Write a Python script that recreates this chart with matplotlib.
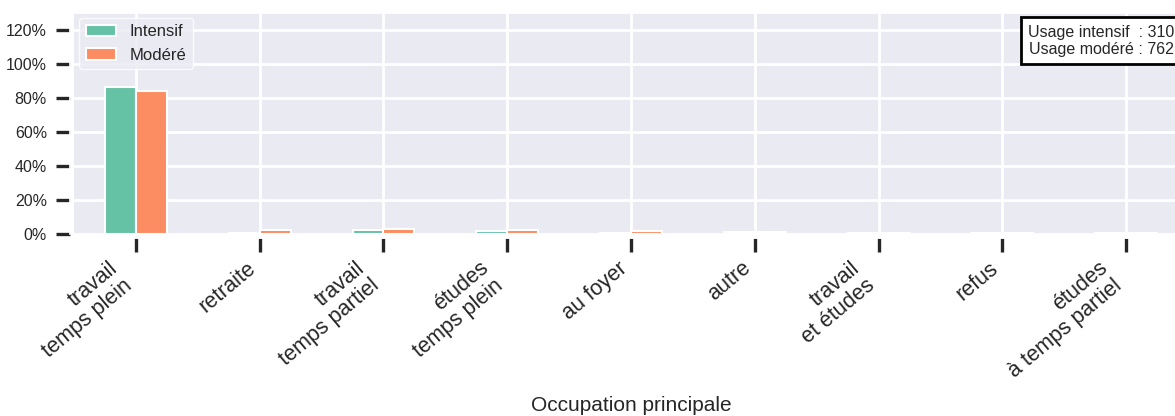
import numpy as np
import matplotlib
matplotlib.use("Agg")
import matplotlib.pyplot as plt
import seaborn as sns
from matplotlib.ticker import PercentFormatter

# ---------- Donnees ----------
categories = ["travail\ntemps plein", "retraite", "travail\ntemps partiel",
              "études\ntemps plein", "au foyer", "autre",
              "travail\net études", "refus", "études\nà temps partiel"]
intensif = [0.862, 0.008, 0.022, 0.017, 0.008, 0.012, 0.008, 0.008, 0.004]
modere   = [0.840, 0.022, 0.027, 0.022, 0.016, 0.012, 0.004, 0.004, 0.004]
n_intensif, n_modere = 310, 762

# ---------- Style ----------
sns.set_theme(style="darkgrid")
plt.rcParams['font.family'] = ['Liberation Sans', 'DejaVu Sans']

fig = plt.figure(figsize=(11.75, 4.16), dpi=100)
ax = fig.add_axes([74 / 1175, 1 - 234 / 416, 1114 / 1175, 221.5 / 416])
# decaler les ticks (avant de configurer les labels, sinon ils sont reinitialises)
ax.spines["left"].set_position(("outward", 3))
ax.spines["bottom"].set_position(("outward", 3))

x = np.arange(len(categories))
w = 0.25
pal = sns.color_palette("Set2")
ax.bar(x - w / 2, intensif, w, color=pal[0], edgecolor="white", lw=1.5, label="Intensif")
ax.bar(x + w / 2, modere, w, color=pal[1], edgecolor="white", lw=1.5, label="Modéré")

ax.set_xlim(-0.5, len(categories) - 0.5)
ax.set_ylim(0, 1.3)
ax.set_yticks(np.arange(0, 1.21, 0.2))
ax.yaxis.set_major_formatter(PercentFormatter(1.0, decimals=0))
ax.set_xticks(x)
ax.set_xticklabels(categories, rotation=40, ha="right", fontsize=15.5, linespacing=1.1)
ax.tick_params(axis="y", labelsize=11.5, pad=6.5)
ax.tick_params(axis="x", pad=4)
ax.tick_params(axis="both", which="major", length=10, width=2.4, color="#262626",
               bottom=True, left=True)
ax.grid(True, color="white", lw=2)
ax.set_xlabel("Occupation principale", fontsize=15, labelpad=10)

ax.legend(loc="upper left", fontsize=12, frameon=True, edgecolor="white",
          handlelength=1.8, handletextpad=0.85, borderaxespad=0.3)

ax.text(0.9875, 0.945, f"Usage intensif  : {n_intensif}\nUsage modéré : {n_modere}",
        transform=ax.transAxes, ha="right", va="top", fontsize=11.5,
        multialignment="center",
        bbox=dict(boxstyle="square,pad=0.45", fc="white", ec="black", lw=2))

fig.savefig("out.png", dpi=100)
